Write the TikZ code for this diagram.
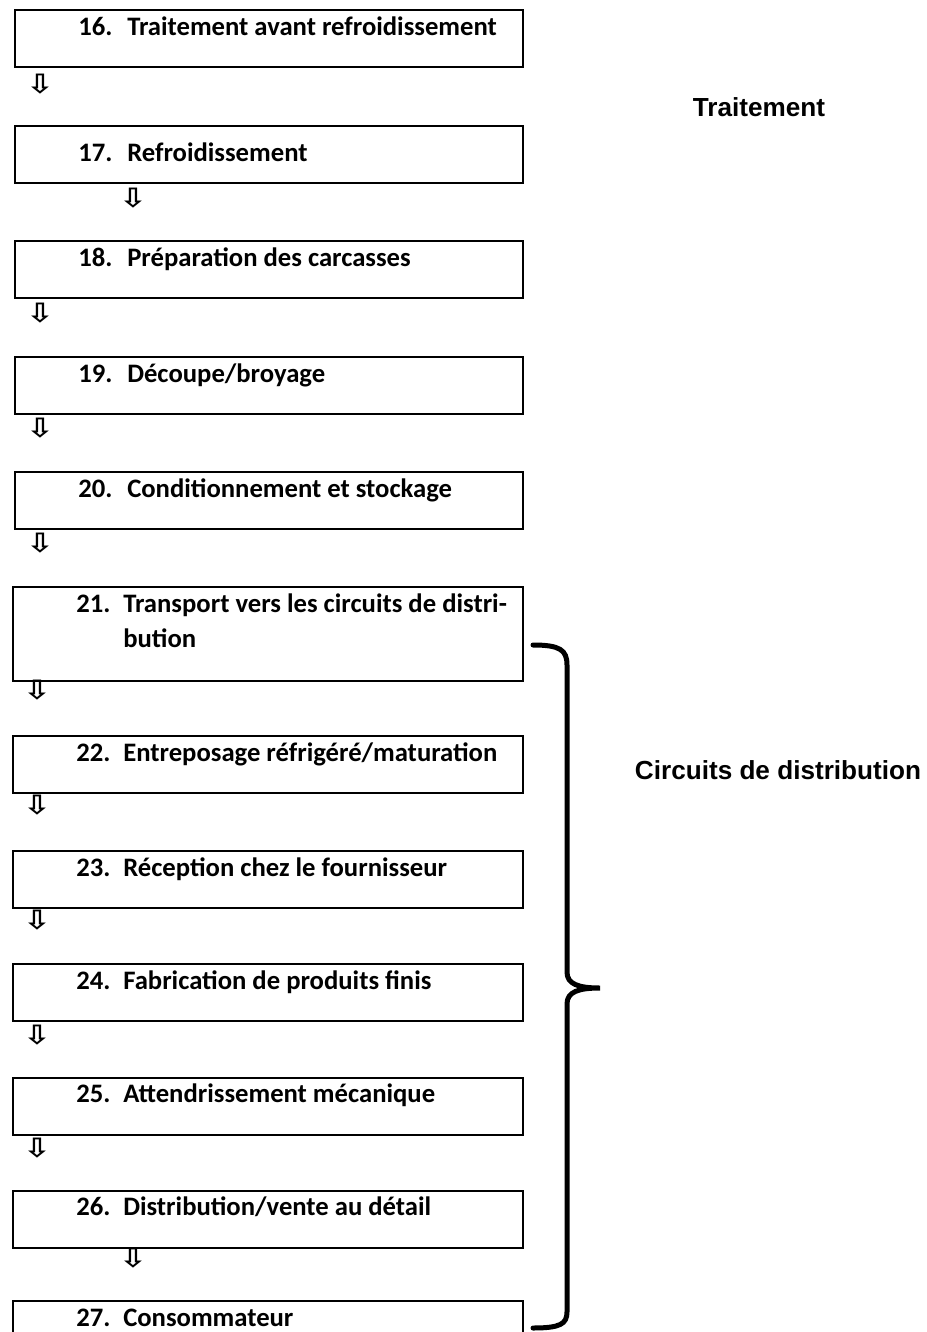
\documentclass[tikz,border=0pt]{standalone}
\usepackage{fontspec}
\setmainfont{Carlito}
\newfontfamily\arialfont{Liberation Sans}
\newfontfamily\symfont{DejaVu Sans}
\newcommand{\downarr}{\scalebox{1.25}[1]{⇩}}
\begin{document}
\begin{tikzpicture}[x=0.75pt,y=-0.75pt,
  stepbox/.style={draw,line width=1.5pt,rectangle,anchor=north west,minimum width=508*0.75pt,minimum height=57*0.75pt,inner sep=0pt},
  num/.style={anchor=base west,inner sep=0pt,font=\fontsize{20pt}{26.25pt}\selectfont\bfseries},
  lbl/.style={anchor=base west,inner sep=0pt,align=left,font=\fontsize{20pt}{26.25pt}\selectfont\bfseries},
  darr/.style={inner sep=0pt,font=\symfont\bfseries\fontsize{20pt}{20pt}\selectfont},
  side/.style={inner sep=0pt,font=\arialfont\fontsize{19.6pt}{22pt}\selectfont\bfseries}]
\useasboundingbox (0,0) rectangle (926,1332);
\clip (0,0) rectangle (926,1332);
% boxes
\node[stepbox] (b16) at (14,9) {};
\node[stepbox] (b17) at (14,125) {};
\node[stepbox] (b18) at (14,240) {};
\node[stepbox] (b19) at (14,356) {};
\node[stepbox] (b20) at (14,471) {};
\node[stepbox,minimum width=510*0.75pt,minimum height=94*0.75pt] (b21) at (12,586) {};
\node[stepbox,minimum width=510*0.75pt] (b22) at (12,735) {};
\node[stepbox,minimum width=510*0.75pt] (b23) at (12,850) {};
\node[stepbox,minimum width=510*0.75pt] (b24) at (12,963) {};
\node[stepbox,minimum width=510*0.75pt] (b25) at (12,1077) {};
\node[stepbox,minimum width=510*0.75pt] (b26) at (12,1190) {};
\node[stepbox,minimum width=510*0.75pt,minimum height=80*0.75pt] (b27) at (12,1300) {};
% texts
\node[num] (n16) at (78,35) {16.};
\node[lbl] (t16) at (127,35) {Traitement avant refroidissement};
\node[num] (n17) at (78,161) {17.};
\node[lbl] (t17) at (127,161) {Refroidissement};
\node[num] (n18) at (78,266) {18.};
\node[lbl] (t18) at (127,266) {Préparation des carcasses};
\node[num] (n19) at (78,382) {19.};
\node[lbl] (t19) at (127,382) {Découpe/broyage};
\node[num] (n20) at (78,497) {20.};
\node[lbl] (t20) at (127,497) {Conditionnement et stockage};
\node[num] (n21) at (76,612) {21.};
\node[lbl] (t21) at (123,647) {Transport vers les circuits de distri-\\bution};
\node[num] (n22) at (76,761) {22.};
\node[lbl] (t22) at (123,761) {Entreposage réfrigéré/maturation};
\node[num] (n23) at (76,876) {23.};
\node[lbl] (t23) at (123,876) {Réception chez le fournisseur};
\node[num] (n24) at (76,989) {24.};
\node[lbl] (t24) at (123,989) {Fabrication de produits finis};
\node[num] (n25) at (76,1102) {25.};
\node[lbl] (t25) at (123,1102) {Attendrissement mécanique};
\node[num] (n26) at (76,1215) {26.};
\node[lbl] (t26) at (123,1215) {Distribution/vente au détail};
\node[num] (n27) at (76,1326) {27.};
\node[lbl] (t27) at (123,1326) {Consommateur};
% arrows
\node[darr] (a16) at (40,84) {\downarr};
\node[darr] (a17) at (133,198) {\downarr};
\node[darr] (a18) at (40,313) {\downarr};
\node[darr] (a19) at (40,428) {\downarr};
\node[darr] (a20) at (40,543) {\downarr};
\node[darr] (a21) at (37,690) {\downarr};
\node[darr] (a22) at (37,805) {\downarr};
\node[darr] (a23) at (37,920) {\downarr};
\node[darr] (a24) at (37,1035) {\downarr};
\node[darr] (a25) at (37,1148) {\downarr};
\node[darr] (a26) at (133,1258) {\downarr};
% side labels
\node[side] (s1) at (759,107) {Traitement};
\node[side] (s2) at (778,770) {Circuits de distribution};
% brace
\draw[line width=3.75pt,line cap=round] (533,645) .. controls (560,645) and (567,650) .. (567,665) -- (567,972) .. controls (567,984) and (578,988) .. (600,988) .. controls (578,988) and (567,992) .. (567,1004) -- (567,1312) .. controls (567,1324) and (560,1328) .. (533,1328);
\end{tikzpicture}
\end{document}
